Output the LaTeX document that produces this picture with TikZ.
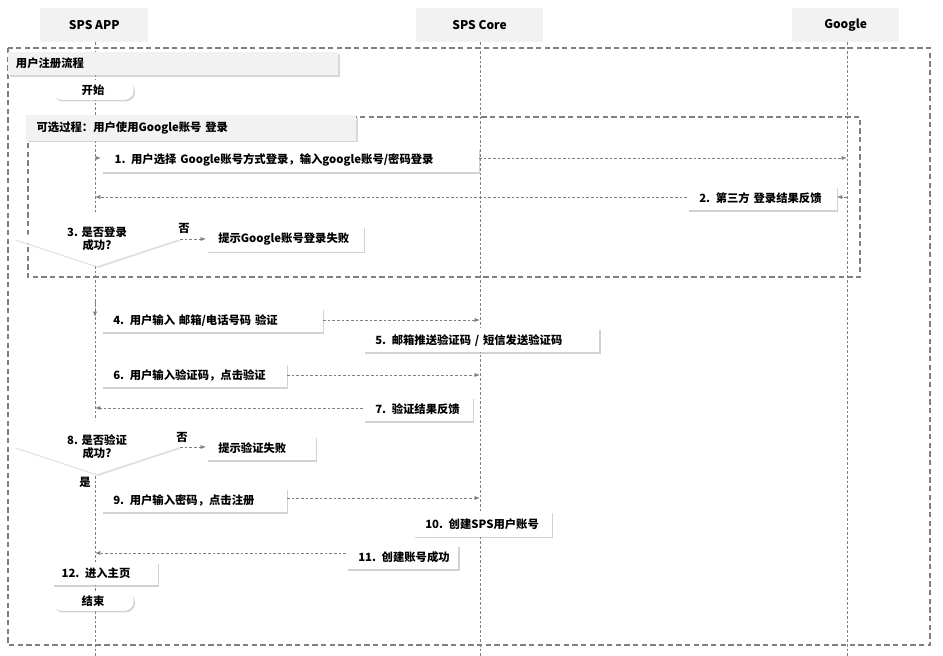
\documentclass[tikz,border=0pt]{standalone}
\usepackage{fontspec}
\setmainfont{Noto Sans CJK SC}
\usetikzlibrary{arrows.meta,positioning,shadows,shapes.geometric}
\definecolor{hdgray}{HTML}{F2F2F2}
\definecolor{lngray}{HTML}{7F7F7F}
\begin{document}
\begin{tikzpicture}[x=0.75pt,y=-0.75pt,
  stepbox/.style={fill=white,drop shadow={shadow xshift=1pt,shadow yshift=-1.2pt,fill=black!35},anchor=north west,inner sep=0pt,align=left,font=\fontsize{8.5}{10}\selectfont\bfseries},
  head/.style={fill=hdgray,anchor=north west,inner sep=0pt,font=\fontsize{9}{10}\selectfont\bfseries},
  pill/.style={fill=white,rounded corners=7pt,drop shadow={shadow xshift=1pt,shadow yshift=-1.2pt,fill=black!35},minimum height=13.5pt,font=\fontsize{8.5}{10}\selectfont\bfseries},
  decide/.style={diamond,aspect=3.1,fill=white,drop shadow={shadow xshift=1pt,shadow yshift=-1.2pt,fill=black!25},inner sep=0pt,minimum width=124pt,minimum height=41pt,align=center,font=\fontsize{8.5}{10}\selectfont\bfseries},
  msg/.style={-{Latex[length=4pt,width=3pt]},lngray,dashed,dash pattern=on 2pt off 1.5pt,line width=0.5pt},
  life/.style={lngray,dashed,dash pattern=on 2pt off 1.5pt,line width=0.4pt},
  frame/.style={draw=lngray,dashed,dash pattern=on 4pt off 2.5pt,line width=0.9pt}
]
\useasboundingbox (0,0) rectangle (943,656);
% lanes
\node[head,minimum width=81pt,minimum height=25.5pt] (app) at (40,8) {SPS APP};
\node[head,minimum width=95pt,minimum height=25.5pt] (core) at (416,8) {SPS Core};
\node[head,minimum width=80pt,minimum height=25.5pt] (ggl) at (792,8) {Google};
\coordinate (appT) at (95,42);   \coordinate (appB) at (95,656);
\coordinate (coreT) at (480,42); \coordinate (coreB) at (480,656);
\coordinate (gglT) at (847,42);  \coordinate (gglB) at (847,656);
\draw[life] (appT) -- (appB);
\draw[life] (coreT) -- (coreB);
\draw[life] (gglT) -- (gglB);
% frames
\draw[frame] (8,48) rectangle (930,645);
\node[head,fill=hdgray,drop shadow={shadow xshift=1pt,shadow yshift=-1.2pt,fill=black!30},minimum width=247.5pt,minimum height=17pt,font=\fontsize{8.5}{10}\selectfont\bfseries,text width=240pt,align=left] (reg) at (8,52) {\hspace*{2pt}用户注册流程};
\node[pill,minimum width=61pt] (start) at (93,90) {开始};
\draw[frame] (28,117) rectangle (860,277);
\node[head,drop shadow={shadow xshift=1pt,shadow yshift=-1.2pt,fill=black!30},minimum width=247.5pt,minimum height=19pt,font=\fontsize{8.5}{10}\selectfont\bfseries,text width=240pt,align=left] (opt) at (26,115) {\hspace*{4pt}可选过程：用户使用Google账号 登录};
% steps
\node[stepbox,minimum width=283pt,minimum height=18pt,text width=275pt] (s1) at (101,148) {\hspace*{6pt}1. 用户选择 Google账号方式登录，输入google账号/密码登录};
\node[stepbox,minimum width=112pt,minimum height=18pt,text width=106pt] (s2) at (687,186) {\hspace*{6pt}2. 第三方 登录结果反馈};
\node[decide] (d3) at (97,239) {3. 是否登录\\成功?};
\node[stepbox,minimum width=118pt,minimum height=19pt,text width=112pt] (f3) at (206,226) {\hspace*{6pt}提示Google账号登录失败};
\node[font=\fontsize{8.5}{10}\selectfont\bfseries] (no3) at (184,228) {否};
\node[stepbox,minimum width=166pt,minimum height=18pt,text width=160pt] (s4) at (101,308) {\hspace*{6pt}4. 用户输入 邮箱/电话号码 验证};
\node[stepbox,minimum width=177pt,minimum height=18pt,text width=171pt] (s5) at (363,328) {\hspace*{6pt}5. 邮箱推送验证码 / 短信发送验证码};
\node[stepbox,minimum width=139pt,minimum height=18pt,text width=133pt] (s6) at (101,363) {\hspace*{6pt}6. 用户输入验证码，点击验证};
\node[stepbox,minimum width=82pt,minimum height=18pt,text width=76pt] (s7) at (363,397) {\hspace*{6pt}7. 验证结果反馈};
\node[decide] (d8) at (97,447) {8. 是否验证\\成功?};
\node[stepbox,minimum width=82pt,minimum height=18pt,text width=76pt] (f8) at (206,436) {\hspace*{6pt}提示验证失败};
\node[font=\fontsize{8.5}{10}\selectfont\bfseries] (no8) at (182,437) {否};
\node[font=\fontsize{8.5}{10}\selectfont\bfseries] (yes8) at (85,482) {是};
\node[stepbox,minimum width=139pt,minimum height=18pt,text width=133pt] (s9) at (101,488) {\hspace*{6pt}9. 用户输入密码，点击注册};
\node[stepbox,minimum width=104pt,minimum height=19pt,text width=98pt] (s10) at (413,511) {\hspace*{6pt}10. 创建SPS用户账号};
\node[stepbox,minimum width=84pt,minimum height=18pt,text width=78pt] (s11) at (346,545) {\hspace*{6pt}11. 创建账号成功};
\node[stepbox,minimum width=79pt,minimum height=17pt,text width=73pt] (s12) at (52,562) {\hspace*{4pt}12. 进入主页};
\node[pill,minimum width=61pt] (stop) at (93,601) {结束};
% messages
\coordinate (m1a) at (95,158);  \coordinate (m1b) at (847,158);
\coordinate (m2a) at (847,197); \coordinate (m2b) at (95,197);
\coordinate (m4a) at (95,320);  \coordinate (m4b) at (480,320);
\coordinate (m6a) at (95,375);  \coordinate (m6b) at (480,375);
\coordinate (m7a) at (480,408); \coordinate (m7b) at (95,408);
\coordinate (m9a) at (95,498);  \coordinate (m9b) at (480,498);
\coordinate (m11a) at (480,553); \coordinate (m11b) at (95,553);
\draw[msg] (m1a) -- (s1.west |- m1a);
\draw[msg] (s1.east |- m1a) -- (m1b);
\draw[msg] (m2a) -- (s2.east |- m2a);
\draw[msg] (s2.west |- m2a) -- (m2b);
\draw[msg] (d3.east) -- (f3.west |- d3.east);
\draw[msg] (95,300) -- (95,317);
\draw[msg] (s4.east |- m4a) -- (m4b);
\draw[msg] (s6.east |- m6a) -- (m6b);
\draw[msg] (s7.west |- m7a) -- (m7b);
\draw[msg] (d8.east) -- (f8.west |- d8.east);
\draw[msg] (s9.east |- m9a) -- (m9b);
\draw[msg] (s11.west |- m11a) -- (m11b);
\end{tikzpicture}
\end{document}
